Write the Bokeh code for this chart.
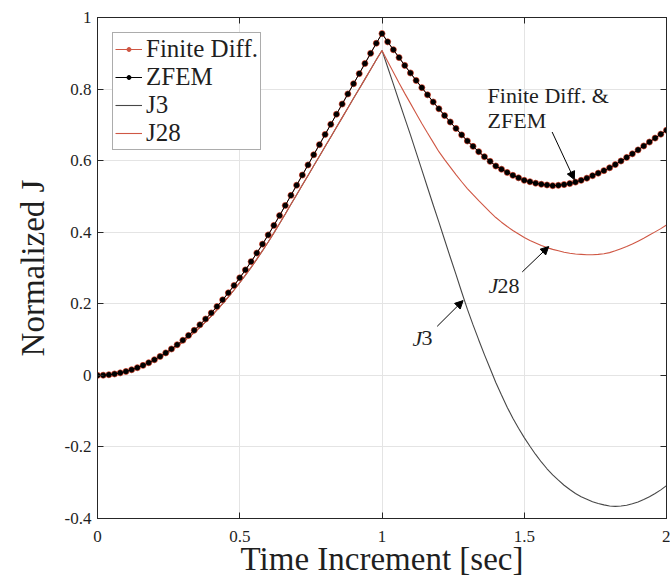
from bokeh.plotting import figure
from bokeh.models import (Range1d, FixedTicker, LinearAxis, Legend, LegendItem,
                          Label, Arrow, NormalHead)
from bokeh.embed import file_html
from bokeh.resources import INLINE

# ---------------- data ----------------
time_sec = [
    0.00, 0.02, 0.04, 0.06, 0.08, 0.10, 0.12, 0.14, 0.16, 0.18,
    0.20, 0.22, 0.24, 0.26, 0.28, 0.30, 0.32, 0.34, 0.36, 0.38,
    0.40, 0.42, 0.44, 0.46, 0.48, 0.50, 0.52, 0.54, 0.56, 0.58,
    0.60, 0.62, 0.64, 0.66, 0.68, 0.70, 0.72, 0.74, 0.76, 0.78,
    0.80, 0.82, 0.84, 0.86, 0.88, 0.90, 0.92, 0.94, 0.96, 0.98,
    1.00,
    1.02, 1.04, 1.06, 1.08, 1.10, 1.12, 1.14, 1.16, 1.18, 1.20,
    1.22, 1.24, 1.26, 1.28, 1.30, 1.32, 1.34, 1.36, 1.38, 1.40,
    1.42, 1.44, 1.46, 1.48, 1.50, 1.52, 1.54, 1.56, 1.58, 1.60,
    1.62, 1.64, 1.66, 1.68, 1.70, 1.72, 1.74, 1.76, 1.78, 1.80,
    1.82, 1.84, 1.86, 1.88, 1.90, 1.92, 1.94, 1.96, 1.98, 2.00,
]

# ZFEM / finite difference (t = 0 ... 1)
zfem_rise = [
    0.0000, 0.0004, 0.0017, 0.0039, 0.0070, 0.0109, 0.0157, 0.0214, 0.0279, 0.0353,
    0.0436, 0.0528, 0.0628, 0.0737, 0.0855, 0.0981, 0.1116, 0.1260, 0.1413, 0.1574,
    0.1744, 0.1923, 0.2110, 0.2306, 0.2511, 0.2725, 0.2947, 0.3178, 0.3418, 0.3667,
    0.3924, 0.4190, 0.4465, 0.4747, 0.5030, 0.5314, 0.5597, 0.5880, 0.6164, 0.6447,
    0.6731, 0.7014, 0.7297, 0.7581, 0.7864, 0.8148, 0.8431, 0.8714, 0.8998, 0.9281,
    0.9550,
]
# ZFEM / finite difference (t = 1.02 ... 2)
zfem_fall = [
    0.932, 0.910, 0.888, 0.866, 0.845, 0.824, 0.804, 0.784, 0.764, 0.745,
    0.726, 0.708, 0.690, 0.672, 0.655, 0.640, 0.625, 0.611, 0.598, 0.585,
    0.576, 0.567, 0.559, 0.552, 0.545, 0.541, 0.537, 0.534, 0.532, 0.530,
    0.531, 0.533, 0.536, 0.540, 0.545, 0.551, 0.558, 0.565, 0.572, 0.580,
    0.589, 0.599, 0.609, 0.619, 0.630, 0.641, 0.652, 0.663, 0.674, 0.685,
]
# J3 and J28 share the loading branch (t = 0 ... 1)
j_rise = [
    0.0000, 0.0004, 0.0016, 0.0037, 0.0067, 0.0104, 0.0149, 0.0203, 0.0265, 0.0335,
    0.0414, 0.0502, 0.0597, 0.0700, 0.0812, 0.0932, 0.1060, 0.1197, 0.1342, 0.1495,
    0.1657, 0.1827, 0.2005, 0.2191, 0.2385, 0.2589, 0.2800, 0.3019, 0.3247, 0.3484,
    0.3728, 0.3981, 0.4242, 0.4510, 0.4779, 0.5048, 0.5317, 0.5586, 0.5856, 0.6125,
    0.6394, 0.6663, 0.6932, 0.7202, 0.7471, 0.7741, 0.8009, 0.8278, 0.8548, 0.8817,
    0.9080,
]
# J28 (t = 1.02 ... 2)
j28_fall = [
    0.877, 0.847, 0.817, 0.788, 0.760, 0.732, 0.704, 0.677, 0.651, 0.625,
    0.603, 0.582, 0.561, 0.541, 0.522, 0.505, 0.488, 0.472, 0.456, 0.441,
    0.428, 0.416, 0.405, 0.395, 0.385, 0.377, 0.370, 0.363, 0.357, 0.352,
    0.348, 0.344, 0.341, 0.339, 0.338, 0.337, 0.337, 0.338, 0.340, 0.343,
    0.348, 0.354, 0.360, 0.367, 0.375, 0.383, 0.392, 0.401, 0.410, 0.420,
]
# J3 (t = 1.02 ... 2)
j3_fall = [
    0.861, 0.814, 0.766, 0.719, 0.672, 0.623, 0.574, 0.525, 0.476, 0.428,
    0.379, 0.330, 0.282, 0.233, 0.185, 0.141, 0.099, 0.058, 0.019, -0.020,
    -0.055, -0.089, -0.120, -0.148, -0.174, -0.198, -0.221, -0.242, -0.261, -0.278,
    -0.293, -0.307, -0.319, -0.330, -0.339, -0.346, -0.353, -0.358, -0.362, -0.365,
    -0.366, -0.365, -0.363, -0.359, -0.354, -0.347, -0.339, -0.330, -0.320, -0.308,
]

x_ticks = [0, 0.5, 1, 1.5, 2]
x_tick_labels = ["0", "0.5", "1", "1.5", "2"]
y_ticks = [-0.4, -0.2, 0, 0.2, 0.4, 0.6, 0.8, 1]
y_tick_labels = ["-0.4", "-0.2", "0", "0.2", "0.4", "0.6", "0.8", "1"]

zfem = zfem_rise + zfem_fall
fd = list(zfem)
j28 = j_rise + j28_fall
j3 = j_rise + j3_fall

# ---------------- styling ----------------
FONT = "Liberation Serif"
TXT = "#1f1f1f"
AX = "#262626"
RED = "#cf5744"
GRAY = "#474747"
GRID = "#e4e4e4"

p = figure(width=670, height=582, x_range=Range1d(0, 2), y_range=Range1d(-0.4, 1),
           output_backend="svg", toolbar_location=None,
           min_border_left=97, min_border_right=4, min_border_top=17, min_border_bottom=64,
           background_fill_color="white", border_fill_color="white")
p.outline_line_color = AX
p.outline_line_width = 1

# main axes
p.xaxis.ticker = FixedTicker(ticks=x_ticks)
p.yaxis.ticker = FixedTicker(ticks=y_ticks)
p.xaxis.major_label_overrides = {v: s for v, s in zip(x_ticks, x_tick_labels)}
p.yaxis.major_label_overrides = {v: s for v, s in zip(y_ticks, y_tick_labels)}
for ax in (p.xaxis, p.yaxis):
    ax.major_tick_in = 6
    ax.major_tick_out = 0
    ax.minor_tick_line_color = None
    ax.axis_line_color = AX
    ax.major_tick_line_color = AX
    ax.major_label_text_font = FONT
    ax.major_label_text_font_size = "17px"
    ax.major_label_text_color = TXT
    ax.axis_label_text_font = FONT
    ax.axis_label_text_font_style = "normal"
    ax.axis_label_text_color = TXT
p.xaxis.major_label_standoff = 12
p.yaxis.major_label_standoff = 6
p.xaxis.axis_label = "Time Increment [sec]"
p.xaxis.axis_label_text_font_size = "33px"
p.xaxis.axis_label_standoff = -4
p.yaxis.axis_label = "Normalized J"
p.yaxis.axis_label_text_font_size = "33px"
p.yaxis.axis_label_standoff = 11

# box ticks on top and right
p.add_layout(LinearAxis(ticker=FixedTicker(ticks=y_ticks), major_tick_in=6, major_tick_out=0,
                        minor_tick_line_color=None, major_label_text_font_size="0px",
                        major_label_standoff=0, axis_line_color=AX, major_tick_line_color=AX,
                        major_label_overrides={v: "" for v in y_ticks}), "right")
p.add_layout(LinearAxis(ticker=FixedTicker(ticks=x_ticks), major_tick_in=6, major_tick_out=0,
                        minor_tick_line_color=None, major_label_text_font_size="0px",
                        major_label_standoff=0, axis_line_color=AX, major_tick_line_color=AX,
                        major_label_overrides={v: "" for v in x_ticks}), "above")

p.xgrid.ticker = FixedTicker(ticks=x_ticks)
p.ygrid.ticker = FixedTicker(ticks=y_ticks)
p.grid.grid_line_color = GRID
p.grid.grid_line_width = 1

# ---------------- series ----------------
r_j3 = p.line(time_sec, j3, line_color=GRAY, line_width=1.1)
r_j28 = p.line(time_sec, j28, line_color=RED, line_width=1.1)
r_fd_l = p.line(time_sec, fd, line_color=RED, line_width=1)
r_fd_m = p.scatter(time_sec, fd, marker="circle", size=6, fill_color=RED, line_color=RED)
r_zf_l = p.line(time_sec, zfem, line_color="black", line_width=1)
r_zf_m = p.scatter(time_sec, zfem, marker="circle", size=4.6, fill_color="black", line_color="black")

legend = Legend(items=[
    LegendItem(label="Finite Diff.", renderers=[r_fd_l, r_fd_m]),
    LegendItem(label="ZFEM", renderers=[r_zf_l, r_zf_m]),
    LegendItem(label="J3", renderers=[r_j3]),
    LegendItem(label="J28", renderers=[r_j28]),
], location="top_left", margin=15, padding=2, spacing=0,
    label_text_font=FONT, label_text_font_size="25px", label_text_color=TXT,
    glyph_width=27, glyph_height=10, label_height=27, label_standoff=4,
    border_line_color="#5a5a5a", border_line_width=1,
    background_fill_color="white", background_fill_alpha=1)
p.add_layout(legend)

# ---------------- annotations ----------------
ANN = dict(text_font=FONT, text_font_size="22px", text_color=TXT,
           text_align="left", text_baseline="middle")
p.add_layout(Label(x=1.371, y=0.782, text="Finite Diff. &", **ANN))
p.add_layout(Label(x=1.371, y=0.712, text="ZFEM", **ANN))
p.add_layout(Label(x=1.374, y=0.251, text="J", text_font_style="italic", **ANN))
p.add_layout(Label(x=1.374, y=0.251, x_offset=9, text="28", **ANN))
p.add_layout(Label(x=1.107, y=0.103, text="J", text_font_style="italic", **ANN))
p.add_layout(Label(x=1.107, y=0.103, x_offset=9, text="3", **ANN))

arrows = [
    (1.598, 0.680, 1.676, 0.547),
    (1.493, 0.289, 1.586, 0.360),
    (1.194, 0.137, 1.285, 0.209),
]
for xs, ys, xe, ye in arrows:
    p.add_layout(Arrow(end=NormalHead(size=8, fill_color="black", line_color="black"),
                       x_start=xs, y_start=ys, x_end=xe, y_end=ye,
                       line_color="black", line_width=1))

open("out.html", "w").write(file_html(p, INLINE))
